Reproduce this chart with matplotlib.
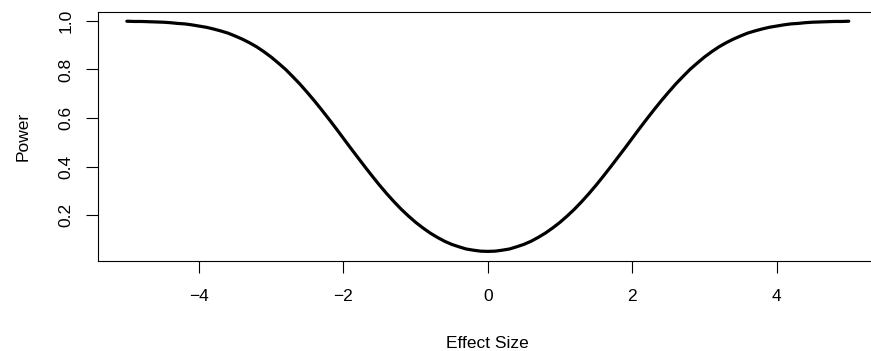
import matplotlib
matplotlib.use("Agg")
import matplotlib.pyplot as plt

plt.rcParams["font.family"] = ["Liberation Sans", "DejaVu Sans"]

# effect size grid (step 0.1) and power values for the curve
effect = [round(-5 + 0.1 * i, 1) for i in range(101)]
power = [
    0.999, 0.998, 0.998, 0.997, 0.996, 0.995, 0.993, 0.990, 0.988, 0.984,
    0.979, 0.974, 0.967, 0.959, 0.950, 0.938, 0.925, 0.910, 0.893, 0.873,
    0.851, 0.826, 0.800, 0.770, 0.739, 0.705, 0.670, 0.633, 0.595, 0.556,
    0.516, 0.476, 0.437, 0.398, 0.360, 0.323, 0.288, 0.255, 0.224, 0.196,
    0.170, 0.147, 0.126, 0.108, 0.092, 0.079, 0.069, 0.060, 0.055, 0.051,
    0.050,
    0.051, 0.055, 0.060, 0.069, 0.079, 0.092, 0.108, 0.126, 0.147, 0.170,
    0.196, 0.224, 0.255, 0.288, 0.323, 0.360, 0.398, 0.437, 0.476, 0.516,
    0.556, 0.595, 0.633, 0.670, 0.705, 0.739, 0.770, 0.800, 0.826, 0.851,
    0.873, 0.893, 0.910, 0.925, 0.938, 0.950, 0.959, 0.967, 0.974, 0.979,
    0.984, 0.988, 0.990, 0.993, 0.995, 0.996, 0.997, 0.998, 0.998, 0.999,
]
xticks = [-4, -2, 0, 2, 4]
yticks = [0.2, 0.4, 0.6, 0.8, 1.0]

fig = plt.figure(figsize=(8.71, 3.51), dpi=100)
ax = fig.add_axes([0.1125, 0.2575, 0.8951, 0.7083])

ax.plot(effect, power, color="black", lw=2.3, solid_capstyle="round",
        solid_joinstyle="round")

ax.set_xlim(-5.4, 5.4)
ax.set_ylim(0.012, 1.037)
ax.set_xticks(xticks)
ax.set_xticklabels(["\u22124", "\u22122", "0", "2", "4"])
ax.set_yticks(yticks)
ax.set_yticklabels(["0.2", "0.4", "0.6", "0.8", "1.0"], rotation=90, va="center")

for s in ax.spines.values():
    s.set_linewidth(0.8)
ax.tick_params(direction="out", length=8.5, width=0.8, labelsize=12.5)
ax.tick_params(axis="x", pad=12)
ax.tick_params(axis="y", pad=9)

ax.set_xlabel("Effect Size", fontsize=12.5, labelpad=23)
ax.set_ylabel("Power", fontsize=12.5, labelpad=20)

fig.savefig("out.png", dpi=100)
